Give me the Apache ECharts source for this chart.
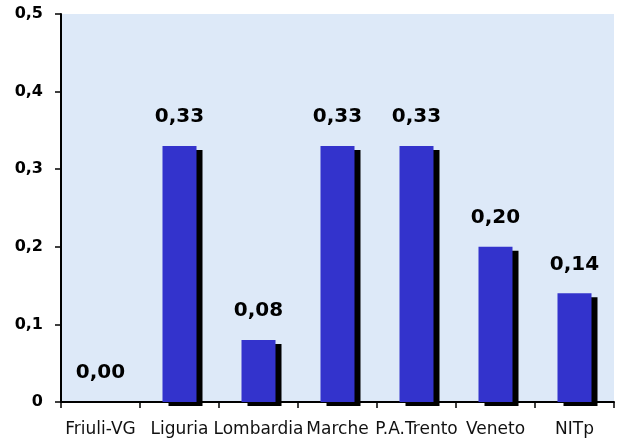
<!DOCTYPE html>
<html>
<head>
<meta charset="utf-8">
<script src="https://cdn.jsdelivr.net/npm/echarts@6/dist/echarts.min.js"></script>
<style>
html,body{margin:0;padding:0;background:#fff;}
#c{width:618px;height:444px;}
</style>
</head>
<body>
<div id="c"></div>
<script>
var categories = ["Friuli-VG", "Liguria", "Lombardia", "Marche", "P.A.Trento", "Veneto", "NITp"];
var values = [0.00, 0.33, 0.08, 0.33, 0.33, 0.20, 0.14];
var yTicks = [0, 0.1, 0.2, 0.3, 0.4, 0.5];

function fmt(v, d) { return v.toFixed(d).replace('.', ','); }

var chart = echarts.init(document.getElementById('c'), null, {renderer: 'canvas'});
chart.setOption({
  animation: false,
  grid: {left: 61, right: 4, top: 14, bottom: 42, show: true, backgroundColor: '#dde9f8', borderWidth: 0},
  xAxis: {
    type: 'category',
    data: categories,
    axisLine: {lineStyle: {color: '#000', width: 2}},
    axisTick: {show: true, length: 6, lineStyle: {color: '#000', width: 1.5}},
    axisLabel: {interval: 0, margin: 19, color: '#111', fontFamily: 'DejaVu Sans', fontSize: 17}
  },
  yAxis: {
    type: 'value',
    min: yTicks[0], max: yTicks[yTicks.length - 1], interval: 0.1,
    splitLine: {show: false},
    axisLine: {show: true, lineStyle: {color: '#000', width: 2}},
    axisTick: {show: true, length: 6, lineStyle: {color: '#000', width: 1.5}},
    axisLabel: {margin: 18, color: '#000', fontFamily: 'DejaVu Sans', fontWeight: 'bold', fontSize: 16,
      formatter: function (v) { return v === 0 ? '0' : fmt(v, 1); }}
  },
  series: [{
    type: 'bar',
    data: values,
    barWidth: 34,
    itemStyle: {color: '#3333cc', borderWidth: 0, shadowColor: '#000', shadowOffsetX: 6, shadowOffsetY: 4, shadowBlur: 0},
    label: {show: true, position: 'top', distance: 19, color: '#000', fontFamily: 'DejaVu Sans',
      fontWeight: 'bold', fontSize: 20, formatter: function (p) { return fmt(p.value, 2); }}
  }]
});
</script>
</body>
</html>
